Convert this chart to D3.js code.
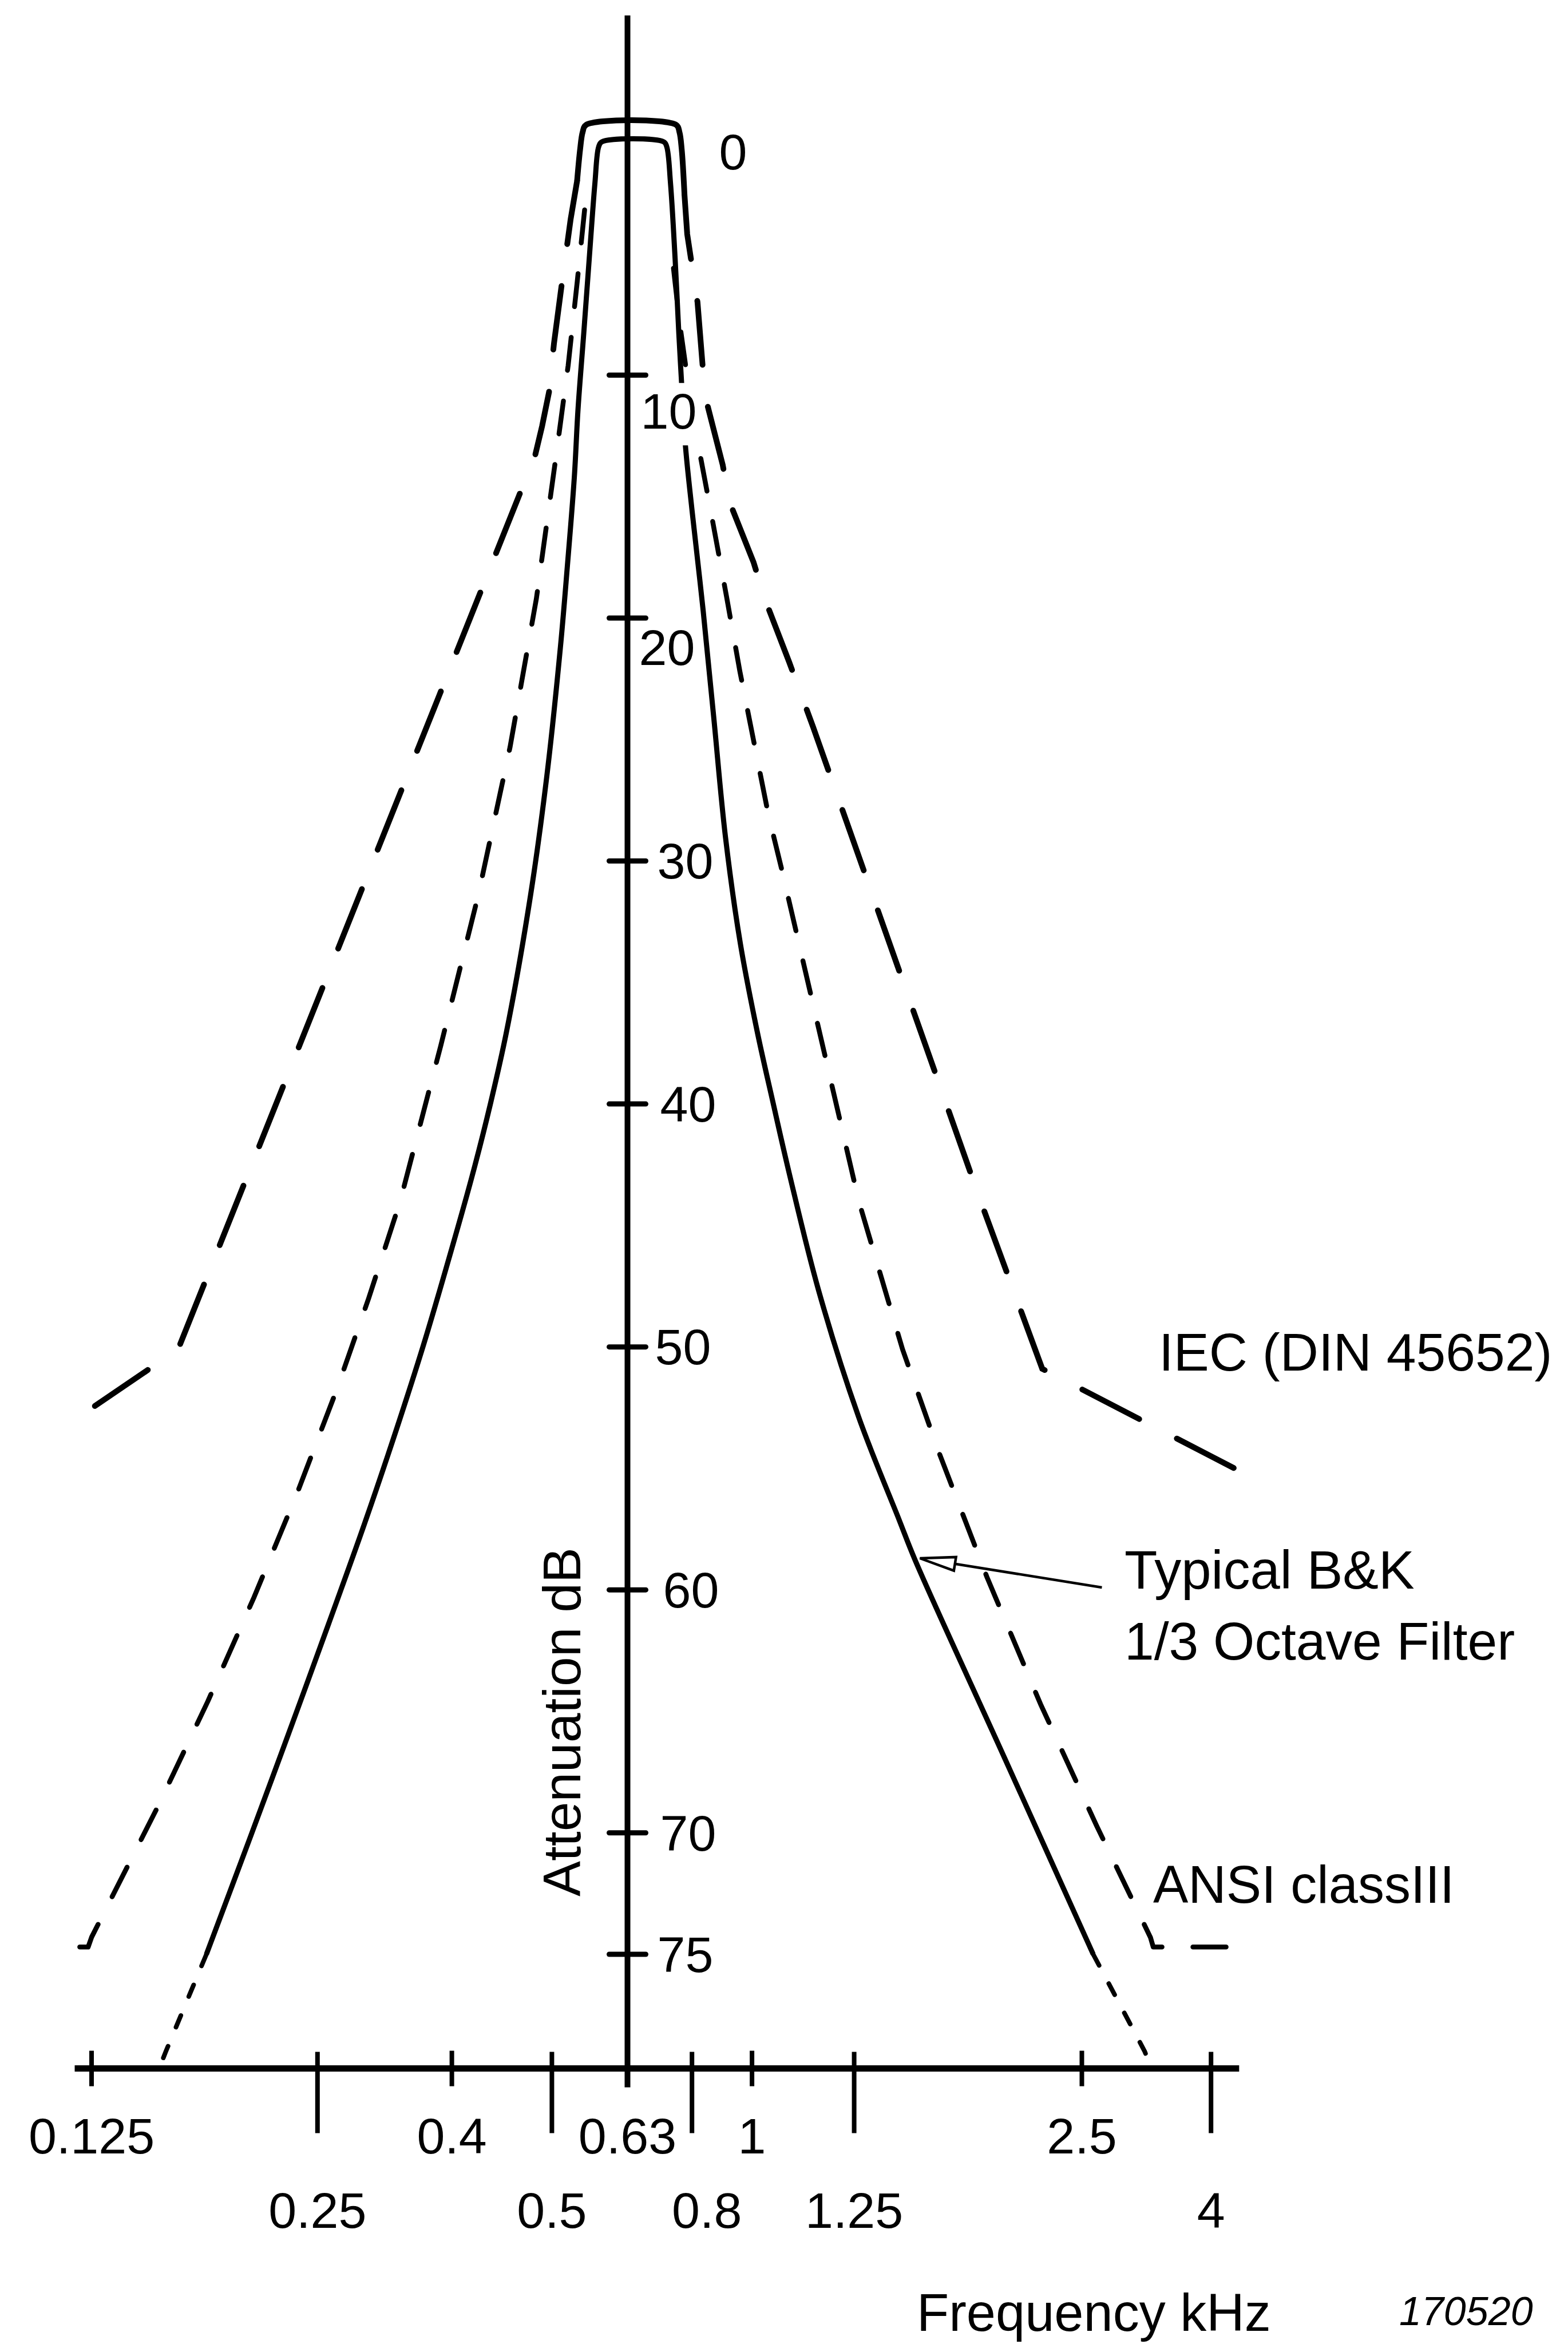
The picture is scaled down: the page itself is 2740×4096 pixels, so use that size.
<!DOCTYPE html>
<html>
<head>
<meta charset="utf-8">
<script src="https://cdn.jsdelivr.net/npm/d3@7"></script>
<style>
  html, body { margin: 0; padding: 0; background: #ffffff; }
  svg { display: block; }
</style>
</head>
<body>
<script>
// ================= DATA =================
// Frequency axis (kHz) ticks and labels
const freqTicks      = [0.125, 0.25, 0.4, 0.5, 0.63, 0.8, 1, 1.25, 2.5, 4];
const freqTickLabels = ["0.125", "0.25", "0.4", "0.5", "0.63", "0.8", "1", "1.25", "2.5", "4"];

// Attenuation axis (dB) ticks and labels
const dbTicks       = [10, 20, 30, 40, 50, 60, 70, 75];
const dbLabelValues = [0, 10, 20, 30, 40, 50, 60, 70, 75];
const dbLabelTexts  = ["0", "10", "20", "30", "40", "50", "60", "70", "75"];

// Typical B&K 1/3 octave filter (solid part, down to 75 dB)
const bkFreq = [0.1778, 0.2033, 0.2289, 0.2599, 0.2945, 0.3304, 0.3624, 0.3917, 0.4183, 0.4359,
                0.4520, 0.4768, 0.4944, 0.5132, 0.5241, 0.5355, 0.5416, 0.5511, 0.5605, 0.5703,
                0.5769, 0.5824, 0.7206, 0.7286, 0.7388, 0.7515, 0.7620, 0.7701, 0.7808, 0.8004,
                0.8340, 0.8675, 0.9059, 0.9576, 1.0112, 1.0464, 1.0867, 1.1570, 1.2677, 1.4326,
                1.5060, 1.9746, 2.6054];
const bkDb   = [75.0, 70.2, 65.9, 61.4, 57.3, 53.3, 49.9, 46.8, 43.0, 40.0,
                37.0, 31.4, 26.5, 21.2, 17.9, 14.2, 11.4, 8.3, 5.2, 2.1,
                0.6, 0.4, 0.4, 0.6, 2.1, 5.2, 8.3, 10.4, 12.9, 15.6,
                19.7, 24.1, 29.0, 33.4, 37.0, 39.9, 43.0, 47.7, 52.9, 57.1,
                58.8, 66.9, 75.0];
// B&K below 75 dB (dotted extensions)
const bkLowLeftFreq  = [0.1778, 0.1570, 0.1538];
const bkLowLeftDb    = [75.0, 79.0, 79.7];
const bkLowRightFreq = [2.6054, 3.1427, 3.2187];
const bkLowRightDb   = [75.0, 79.0, 79.7];

// Pass-band tolerance (solid top)
const tolFreq = [0.5401, 0.5451, 0.5493, 0.5551, 0.7545, 0.7637, 0.7701, 0.7782];
const tolDb   = [2.0, 0.7, 0.0, -0.3, -0.3, 0.0, 0.7, 2.6];

// IEC (DIN 45652) limits
const iecLeftFreq  = [0.5401, 0.5294, 0.5146, 0.5032, 0.4968, 0.4892, 0.4817, 0.1630, 0.1213];
const iecLeftDb    = [2.0, 3.6, 6.4, 8.7, 10.7, 12.1, 13.3, 50.1, 52.8];
const iecRightFreq = [0.7782, 0.7860, 0.8166, 0.8322, 0.8485, 0.8969, 0.9191, 1.0033, 1.0281,
                      1.0843, 1.1431, 1.8270, 2.2160, 4.4310];
const iecRightDb   = [2.6, 4.2, 7.0, 9.6, 11.3, 13.7, 15.2, 17.7, 19.2,
                      21.8, 24.5, 43.8, 50.9, 55.1];

// ANSI class III limits
const ansiLeftFreq  = [0.5526, 0.5401, 0.5255, 0.5071, 0.4830, 0.4555, 0.4243, 0.3848, 0.3339,
                       0.2990, 0.2679, 0.2350, 0.2058, 0.1785, 0.1533, 0.1250, 0.1237, 0.1196];
const ansiLeftDb    = [3.2, 6.2, 9.6, 13.2, 19.2, 25.3, 31.4, 37.6, 44.0,
                       48.0, 51.7, 56.0, 60.3, 64.6, 68.9, 74.3, 74.7, 74.7];
const ansiRightFreq = [0.7470, 0.7637, 0.7873, 0.8207, 0.8651, 0.9094, 0.9560, 1.0062, 1.0365,
                       1.0664, 1.2677, 1.4484, 1.6160, 1.8741, 2.2043, 2.6368, 3.2083, 3.2415,
                       4.4310];
const ansiRightDb   = [5.6, 7.8, 10.2, 13.0, 16.1, 19.1, 22.2, 25.3, 28.1,
                       30.3, 44.0, 50.1, 54.3, 59.5, 64.7, 69.7, 74.3, 74.7,
                       74.7];

// Annotation arrow (freq kHz, dB)
const arrowFrom = [2.689, 59.9];
const arrowTo   = [1.527, 58.7];

// Axis extents (data units)
const yAxisTopDb   = -4.8;
const baselineDb   = 79.7;
const xAxisMinFreq = 0.1187;
const xAxisMaxFreq = 4.431;

// Text
const titleY    = "Attenuation dB";
const titleX    = "Frequency kHz";
const labelIEC  = "IEC (DIN 45652)";
const labelBK1  = "Typical B&K";
const labelBK2  = "1/3 Octave Filter";
const labelANSI = "ANSI classIII";
const figNumber = "170520";

// ================= LAYOUT =================
const W = 2740, H = 4096;
const xRangePx = [160.0, 554.8, 789.6, 964.4, 1096.5, 1209.2, 1314.1, 1492.6, 1890.5, 2116.2];
const yRangePx = [230.9, 3415.0];           // for dB 0 .. 75
const freqTickLong = [0, 1, 0, 1, 0, 1, 0, 1, 0, 1];   // long ticks / lower label row
const freqLabelDx  = [0, 0, 0, 0, 0, 26, 0, 0, 0, 0];
const dbLabelDx = [160, 23, 20, 52, 57, 48, 62, 57, 52];
const dbLabelDy = [34, 63, 51, 0, 0, 0, 0, 0, 0];
const dbLabelMask = [0, 1, 0, 0, 0, 0, 0, 0, 0];
const FONT = "'Liberation Sans', Arial, Helvetica, sans-serif";

// ================= SCALES =================
const x = d3.scaleLog().domain(freqTicks).range(xRangePx);
const y = d3.scaleLinear().domain([0, 75]).range(yRangePx);

const svg = d3.select("body").append("svg")
  .attr("width", W).attr("height", H)
  .attr("viewBox", `0 0 ${W} ${H}`);
svg.append("rect").attr("width", W).attr("height", H).attr("fill", "#ffffff");

const zip = (fs, ds) => fs.map((f, i) => [f, ds[i]]);
const smooth = d3.line().x(d => x(d[0])).y(d => y(d[1])).curve(d3.curveCatmullRom.alpha(0.5));
const straight = d3.line().x(d => x(d[0])).y(d => y(d[1]));

const curves = svg.append("g").attr("fill", "none").attr("stroke", "#000");

// IEC long dashes
[zip(iecLeftFreq, iecLeftDb), zip(iecRightFreq, iecRightDb)].forEach(pts => {
  curves.append("path").attr("d", straight(pts))
    .attr("stroke-width", 10).attr("stroke-linecap", "round")
    .attr("stroke-dasharray", "112 74");
});
// ANSI short dashes
[zip(ansiLeftFreq, ansiLeftDb), zip(ansiRightFreq, ansiRightDb)].forEach(pts => {
  curves.append("path").attr("d", straight(pts))
    .attr("stroke-width", 8.5).attr("stroke-linecap", "round")
    .attr("stroke-linejoin", "round")
    .attr("stroke-dasharray", "58 54");
});
// Tolerance top (solid)
curves.append("path").attr("d", smooth(zip(tolFreq, tolDb)))
  .attr("stroke-width", 10).attr("stroke-linejoin", "round");
// B&K solid
curves.append("path").attr("d", smooth(zip(bkFreq, bkDb)))
  .attr("stroke-width", 9).attr("stroke-linejoin", "round");
// B&K dotted extensions
[zip(bkLowLeftFreq, bkLowLeftDb), zip(bkLowRightFreq, bkLowRightDb)].forEach(pts => {
  curves.append("path").attr("d", straight(pts))
    .attr("stroke-width", 8).attr("stroke-linecap", "round")
    .attr("stroke-dasharray", "22 36");
});

// ---- y labels (with masks where the original breaks the curves) ----
const yLabels = svg.append("g").attr("font-family", FONT).attr("font-size", 88).attr("fill", "#000");
const x0 = x(0.63);
dbLabelValues.forEach((v, i) => {
  const t = yLabels.append("text")
    .attr("x", x0 + dbLabelDx[i])
    .attr("y", y(v) + dbLabelDy[i])
    .attr("dy", "0.35em")
    .text(dbLabelTexts[i]);
  if (dbLabelMask[i]) {
    const b = t.node().getBBox();
    yLabels.insert("rect", "text")
      .attr("x", b.x - 3).attr("y", b.y)
      .attr("width", b.width + 12).attr("height", b.height + 10)
      .attr("fill", "#ffffff");
  }
});

// ---- axes ----
const axes = svg.append("g").attr("stroke", "#000").attr("fill", "none");
// vertical axis
axes.append("line")
  .attr("x1", x0).attr("x2", x0)
  .attr("y1", y(yAxisTopDb)).attr("y2", y(baselineDb) + 33)
  .attr("stroke-width", 10);
// y ticks (crossing)
dbTicks.forEach(v => {
  axes.append("line")
    .attr("x1", x0 - 32).attr("x2", x0 + 32)
    .attr("y1", y(v)).attr("y2", y(v))
    .attr("stroke-width", 9).attr("stroke-linecap", "round");
});
// horizontal axis
const yb = y(baselineDb);
axes.append("line")
  .attr("x1", x(xAxisMinFreq)).attr("x2", x(xAxisMaxFreq))
  .attr("y1", yb).attr("y2", yb)
  .attr("stroke-width", 11);
// x ticks
freqTicks.forEach((f, i) => {
  const long = freqTickLong[i];
  axes.append("line")
    .attr("x1", x(f)).attr("x2", x(f))
    .attr("y1", yb - (long ? 29 : 31)).attr("y2", yb + (long ? 113 : 31))
    .attr("stroke-width", 8);
});

// x tick labels
const xLabels = svg.append("g").attr("font-family", FONT).attr("font-size", 88)
  .attr("fill", "#000").attr("text-anchor", "middle");
freqTicks.forEach((f, i) => {
  xLabels.append("text")
    .attr("x", x(f) + freqLabelDx[i])
    .attr("y", freqTickLong[i] ? 3893 : 3763)
    .text(freqTickLabels[i]);
});

// ---- annotation arrow ----
const p0 = [x(arrowFrom[0]), y(arrowFrom[1])];
const p1 = [x(arrowTo[0]), y(arrowTo[1])];
const dx = p1[0] - p0[0], dyv = p1[1] - p0[1];
const len = Math.hypot(dx, dyv);
const ux = dx / len, uy = dyv / len;
const nx = -uy, ny = ux;
const L = 62, hw = 12;
const base = [p1[0] - ux * L, p1[1] - uy * L];
svg.append("line")
  .attr("x1", p0[0]).attr("y1", p0[1]).attr("x2", base[0]).attr("y2", base[1])
  .attr("stroke", "#000").attr("stroke-width", 4.5);
svg.append("path")
  .attr("d", `M${p1[0]},${p1[1]} L${base[0] + nx * hw},${base[1] + ny * hw} L${base[0] - nx * hw},${base[1] - ny * hw} Z`)
  .attr("fill", "#ffffff").attr("stroke", "#000").attr("stroke-width", 4.5)
  .attr("stroke-linejoin", "miter");

// ---- texts ----
const txt = svg.append("g").attr("font-family", FONT).attr("fill", "#000");
txt.append("text").attr("font-size", 93).attr("x", 2025).attr("y", 2395).text(labelIEC);
txt.append("text").attr("font-size", 94).attr("x", 1965).attr("y", 2776).text(labelBK1);
txt.append("text").attr("font-size", 93).attr("x", 1965).attr("y", 2900).text(labelBK2);
txt.append("text").attr("font-size", 92).attr("x", 2015).attr("y", 3325).text(labelANSI);
txt.append("text").attr("font-size", 92).attr("x", 1602).attr("y", 4073).text(titleX);
txt.append("text").attr("font-size", 70).attr("font-style", "italic")
  .attr("x", 2445).attr("y", 4063).text(figNumber);
txt.append("text").attr("font-size", 93).attr("text-anchor", "middle")
  .attr("transform", `translate(1014,3009) rotate(-90)`).text(titleY);
</script>
</body>
</html>
